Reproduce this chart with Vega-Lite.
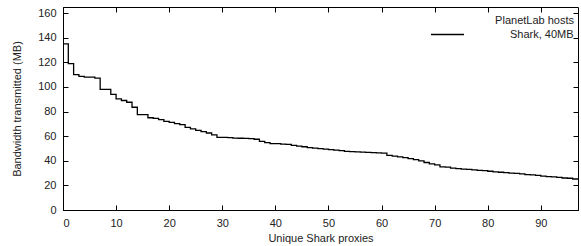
{
  "$schema": "https://vega.github.io/schema/vega-lite/v6.json",
  "width": 515,
  "height": 203,
  "autosize": {"type": "none"},
  "padding": {"left": 63, "top": 7, "right": 3, "bottom": 36},
  "background": "white",
  "config": {
    "font": "Liberation Sans",
    "view": {"stroke": "black", "strokeWidth": 1},
    "axis": {
      "domainColor": "black",
      "tickColor": "black",
      "labelColor": "#222222",
      "titleColor": "#222222",
      "labelFontSize": 11,
      "titleFontSize": 11,
      "titleFontWeight": "normal",
      "grid": false,
      "tickSize": -5,
      "labelPadding": 12
    }
  },
  "data": {
    "values": [
      {"proxy": 0, "mb": 135, "series": "Shark, 40MB"},
      {"proxy": 1, "mb": 119, "series": "Shark, 40MB"},
      {"proxy": 2, "mb": 110, "series": "Shark, 40MB"},
      {"proxy": 3, "mb": 108.6, "series": "Shark, 40MB"},
      {"proxy": 4, "mb": 108, "series": "Shark, 40MB"},
      {"proxy": 5, "mb": 108, "series": "Shark, 40MB"},
      {"proxy": 6, "mb": 107.2, "series": "Shark, 40MB"},
      {"proxy": 7, "mb": 98, "series": "Shark, 40MB"},
      {"proxy": 8, "mb": 98, "series": "Shark, 40MB"},
      {"proxy": 9, "mb": 94, "series": "Shark, 40MB"},
      {"proxy": 10, "mb": 90.3, "series": "Shark, 40MB"},
      {"proxy": 11, "mb": 89, "series": "Shark, 40MB"},
      {"proxy": 12, "mb": 87.6, "series": "Shark, 40MB"},
      {"proxy": 13, "mb": 83.5, "series": "Shark, 40MB"},
      {"proxy": 14, "mb": 77.5, "series": "Shark, 40MB"},
      {"proxy": 15, "mb": 77.5, "series": "Shark, 40MB"},
      {"proxy": 16, "mb": 75, "series": "Shark, 40MB"},
      {"proxy": 17, "mb": 74.5, "series": "Shark, 40MB"},
      {"proxy": 18, "mb": 73.5, "series": "Shark, 40MB"},
      {"proxy": 19, "mb": 72, "series": "Shark, 40MB"},
      {"proxy": 20, "mb": 71.3, "series": "Shark, 40MB"},
      {"proxy": 21, "mb": 70.2, "series": "Shark, 40MB"},
      {"proxy": 22, "mb": 69.4, "series": "Shark, 40MB"},
      {"proxy": 23, "mb": 67.2, "series": "Shark, 40MB"},
      {"proxy": 24, "mb": 65.9, "series": "Shark, 40MB"},
      {"proxy": 25, "mb": 64.7, "series": "Shark, 40MB"},
      {"proxy": 26, "mb": 63.7, "series": "Shark, 40MB"},
      {"proxy": 27, "mb": 62.6, "series": "Shark, 40MB"},
      {"proxy": 28, "mb": 61, "series": "Shark, 40MB"},
      {"proxy": 29, "mb": 59, "series": "Shark, 40MB"},
      {"proxy": 30, "mb": 59, "series": "Shark, 40MB"},
      {"proxy": 31, "mb": 58.8, "series": "Shark, 40MB"},
      {"proxy": 32, "mb": 58.5, "series": "Shark, 40MB"},
      {"proxy": 33, "mb": 58.3, "series": "Shark, 40MB"},
      {"proxy": 34, "mb": 58.2, "series": "Shark, 40MB"},
      {"proxy": 35, "mb": 58, "series": "Shark, 40MB"},
      {"proxy": 36, "mb": 57.5, "series": "Shark, 40MB"},
      {"proxy": 37, "mb": 55.8, "series": "Shark, 40MB"},
      {"proxy": 38, "mb": 54.8, "series": "Shark, 40MB"},
      {"proxy": 39, "mb": 54, "series": "Shark, 40MB"},
      {"proxy": 40, "mb": 53.9, "series": "Shark, 40MB"},
      {"proxy": 41, "mb": 53.6, "series": "Shark, 40MB"},
      {"proxy": 42, "mb": 53.3, "series": "Shark, 40MB"},
      {"proxy": 43, "mb": 52.5, "series": "Shark, 40MB"},
      {"proxy": 44, "mb": 51.9, "series": "Shark, 40MB"},
      {"proxy": 45, "mb": 51.4, "series": "Shark, 40MB"},
      {"proxy": 46, "mb": 50.7, "series": "Shark, 40MB"},
      {"proxy": 47, "mb": 50.3, "series": "Shark, 40MB"},
      {"proxy": 48, "mb": 49.9, "series": "Shark, 40MB"},
      {"proxy": 49, "mb": 49.4, "series": "Shark, 40MB"},
      {"proxy": 50, "mb": 49, "series": "Shark, 40MB"},
      {"proxy": 51, "mb": 48.6, "series": "Shark, 40MB"},
      {"proxy": 52, "mb": 48.2, "series": "Shark, 40MB"},
      {"proxy": 53, "mb": 47.6, "series": "Shark, 40MB"},
      {"proxy": 54, "mb": 47.4, "series": "Shark, 40MB"},
      {"proxy": 55, "mb": 47.2, "series": "Shark, 40MB"},
      {"proxy": 56, "mb": 47, "series": "Shark, 40MB"},
      {"proxy": 57, "mb": 46.8, "series": "Shark, 40MB"},
      {"proxy": 58, "mb": 46.6, "series": "Shark, 40MB"},
      {"proxy": 59, "mb": 46.4, "series": "Shark, 40MB"},
      {"proxy": 60, "mb": 46.2, "series": "Shark, 40MB"},
      {"proxy": 61, "mb": 44.4, "series": "Shark, 40MB"},
      {"proxy": 62, "mb": 43.8, "series": "Shark, 40MB"},
      {"proxy": 63, "mb": 43.2, "series": "Shark, 40MB"},
      {"proxy": 64, "mb": 42.5, "series": "Shark, 40MB"},
      {"proxy": 65, "mb": 41.8, "series": "Shark, 40MB"},
      {"proxy": 66, "mb": 40.9, "series": "Shark, 40MB"},
      {"proxy": 67, "mb": 40, "series": "Shark, 40MB"},
      {"proxy": 68, "mb": 38.6, "series": "Shark, 40MB"},
      {"proxy": 69, "mb": 37.5, "series": "Shark, 40MB"},
      {"proxy": 70, "mb": 36.7, "series": "Shark, 40MB"},
      {"proxy": 71, "mb": 35, "series": "Shark, 40MB"},
      {"proxy": 72, "mb": 34.8, "series": "Shark, 40MB"},
      {"proxy": 73, "mb": 34, "series": "Shark, 40MB"},
      {"proxy": 74, "mb": 33.7, "series": "Shark, 40MB"},
      {"proxy": 75, "mb": 33.3, "series": "Shark, 40MB"},
      {"proxy": 76, "mb": 33, "series": "Shark, 40MB"},
      {"proxy": 77, "mb": 32.6, "series": "Shark, 40MB"},
      {"proxy": 78, "mb": 32.2, "series": "Shark, 40MB"},
      {"proxy": 79, "mb": 32, "series": "Shark, 40MB"},
      {"proxy": 80, "mb": 31.5, "series": "Shark, 40MB"},
      {"proxy": 81, "mb": 31, "series": "Shark, 40MB"},
      {"proxy": 82, "mb": 30.7, "series": "Shark, 40MB"},
      {"proxy": 83, "mb": 30.3, "series": "Shark, 40MB"},
      {"proxy": 84, "mb": 30, "series": "Shark, 40MB"},
      {"proxy": 85, "mb": 29.8, "series": "Shark, 40MB"},
      {"proxy": 86, "mb": 29.4, "series": "Shark, 40MB"},
      {"proxy": 87, "mb": 28.7, "series": "Shark, 40MB"},
      {"proxy": 88, "mb": 28.5, "series": "Shark, 40MB"},
      {"proxy": 89, "mb": 28.2, "series": "Shark, 40MB"},
      {"proxy": 90, "mb": 27.6, "series": "Shark, 40MB"},
      {"proxy": 91, "mb": 27.2, "series": "Shark, 40MB"},
      {"proxy": 92, "mb": 27, "series": "Shark, 40MB"},
      {"proxy": 93, "mb": 26.5, "series": "Shark, 40MB"},
      {"proxy": 94, "mb": 26, "series": "Shark, 40MB"},
      {"proxy": 95, "mb": 25.8, "series": "Shark, 40MB"},
      {"proxy": 96, "mb": 25.2, "series": "Shark, 40MB"},
      {"proxy": 97, "mb": 24.7, "series": "Shark, 40MB"}
    ]
  },
  "layer": [
    {
      "mark": {"type": "line", "interpolate": "step-after", "strokeWidth": 1.3},
      "encoding": {
        "x": {
          "field": "proxy", "type": "quantitative",
          "scale": {"domain": [0, 97], "nice": false, "zero": false},
          "axis": {"title": "Unique Shark proxies", "values": [0, 10, 20, 30, 40, 50, 60, 70, 80, 90], "titlePadding": 4}
        },
        "y": {
          "field": "mb", "type": "quantitative",
          "scale": {"domain": [0, 165], "nice": false},
          "axis": {"title": "Bandwidth transmitted (MB)", "values": [0, 20, 40, 60, 80, 100, 120, 140, 160], "titlePadding": 15}
        },
        "color": {
          "field": "series", "type": "nominal",
          "scale": {"range": ["black"]},
          "legend": {
            "orient": "none", "legendX": 367, "legendY": 8,
            "title": "PlanetLab hosts", "titleAnchor": "end",
            "titleFontWeight": "normal", "titleFontSize": 11, "titleColor": "#222222",
            "labelFontSize": 11, "labelColor": "#222222",
            "symbolType": "stroke", "symbolSize": 1089, "symbolStrokeWidth": 1.3,
            "labelOffset": 45, "titlePadding": -9
          }
        }
      }
    },
    {
      "mark": {"type": "point", "opacity": 0},
      "encoding": {
        "x": {
          "field": "proxy", "type": "quantitative",
          "axis": {"orient": "top", "title": null, "labels": false, "domain": false, "values": [0, 10, 20, 30, 40, 50, 60, 70, 80, 90]}
        },
        "y": {
          "field": "mb", "type": "quantitative",
          "axis": {"orient": "right", "title": null, "labels": false, "domain": false, "values": [0, 20, 40, 60, 80, 100, 120, 140, 160]}
        }
      }
    }
  ],
  "resolve": {"axis": {"x": "independent", "y": "independent"}}
}
